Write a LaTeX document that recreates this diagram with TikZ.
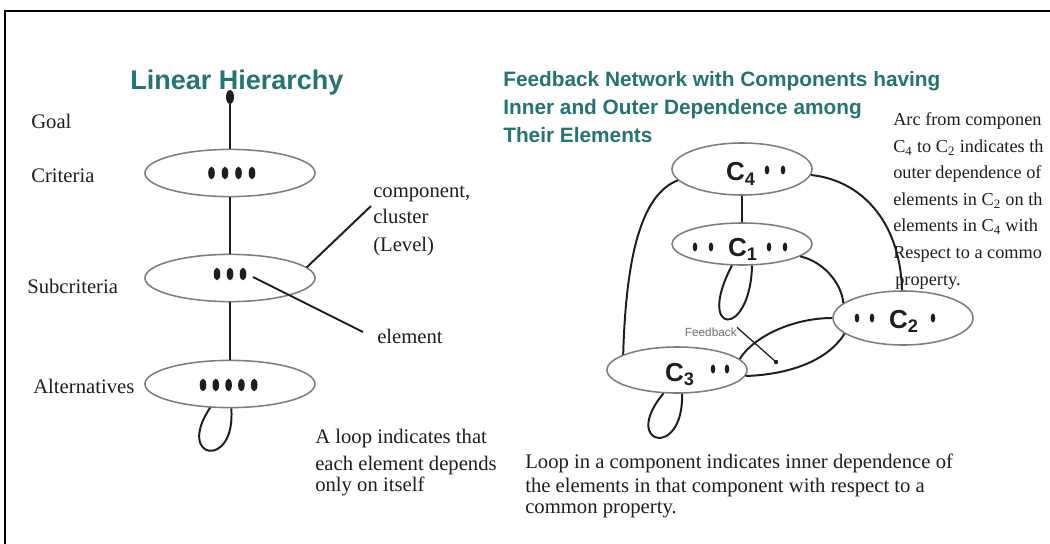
\documentclass[tikz,border=0pt]{standalone}
\usepackage{fontspec}
\setmainfont{Liberation Serif}
\setsansfont{Liberation Sans}
\usetikzlibrary{shapes.geometric, positioning}
\definecolor{titlecol}{RGB}{36,116,114}
\definecolor{ink}{RGB}{30,30,30}
\definecolor{rim}{RGB}{125,125,125}
\definecolor{muted}{RGB}{110,110,110}

\begin{document}
\begin{tikzpicture}[x=0.025cm, y=-0.025cm,
    level/.style={draw=rim, line width=1.1pt, ellipse, inner sep=0pt, minimum width=4.25cm, minimum height=1.18cm},
    comp/.style={draw=rim, line width=1.1pt, ellipse, inner sep=0pt, minimum width=3.5cm},
    link/.style={draw=ink, line width=1.4pt},
    lbl/.style={text=ink, inner sep=0pt, anchor=base west, font=\fontsize{14.7}{18}\selectfont},
    small/.style={text=ink, inner sep=0pt, anchor=base west, font=\fontsize{13}{16}\selectfont},
    clab/.style={text=ink, inner sep=0pt, anchor=base, font=\sffamily\bfseries\fontsize{18.5}{20}\selectfont},
    titre/.style={text=titlecol, inner sep=0pt, anchor=base west, font=\sffamily\bfseries\fontsize{14.8}{18}\selectfont}]

  % cadre
  \useasboundingbox (0,0) rectangle (1050,544);
  \fill[white] (0,0) rectangle (1050,544);
  \draw[black, line width=1.8pt] (5,544) -- (5,11) -- (1050,11);

  % hierarchie lineaire
  \node[titre, anchor=base, font=\sffamily\bfseries\fontsize{19.2}{22}\selectfont] (lh) at (237,90) {Linear Hierarchy};
  \node[fill=ink, ellipse, inner sep=0pt, minimum width=0.2cm, minimum height=0.35cm] (goal) at (230,97) {};
  \node[level] (crit) at (230,173) {};
  \node[level] (subc) at (230,278) {};
  \node[level] (alts) at (230,384) {};
  \draw[link] (goal) -- (crit);
  \draw[link] (crit) -- (subc);
  \draw[link] (subc) -- (alts);

  % elements
  \foreach \i in {0,...,3} \fill[ink] (211.5+13.5*\i,173) ellipse [x radius=3.3, y radius=6.3];
  \foreach \i in {0,...,2} \fill[ink] (217+13*\i,274) ellipse [x radius=3.3, y radius=6.3];
  \foreach \i in {0,...,4} \fill[ink] (203+12.8*\i,385) ellipse [x radius=3.3, y radius=6.3];

  % libelles a gauche
  \node[lbl] (goaltxt) at (31,129) {Goal};
  \node[lbl] (crittxt) at (31,183) {Criteria};
  \node[lbl] (subctxt) at (27,293) {Subcriteria};
  \node[lbl] (altstxt) at (33,393) {Alternatives};

  \node[lbl] (cptxt) at (373,198) {component,};
  \node[lbl] (cltxt) at (373,224) {cluster};
  \node[lbl] (lvtxt) at (373,251) {(Level)};
  \node[lbl] (eltxt) at (377,343) {element};
  \coordinate (cptr) at (371,206);
  \coordinate (edot) at (253,277);
  \coordinate (eptr) at (363,332);
  \draw[link] (cptr) -- (subc.8);
  \draw[link] (edot) -- (eptr);

  % boucle
  \draw[link] (alts.-87) .. controls (236,470) and (175,460) .. (alts.-130);
  \node[lbl] (n1) at (315,443) {A loop indicates that};
  \node[lbl] (n2) at (315,470) {each element depends};
  \node[lbl] (n3) at (315,491) {only on itself};

  % reseau avec retroaction
  \node[titre] (fb1) at (503,87) {Feedback Network with Components having};
  \node[titre] (fb2) at (503,115) {Inner and Outer Dependence among};
  \node[titre] (fb3) at (503,143) {Their Elements};

  \node[comp, minimum height=1.3cm] (c4) at (742,169) {};
  \node[comp, minimum height=1.05cm] (c1) at (742,244) {};
  \node[comp, minimum height=1.35cm] (c2) at (903,318) {};
  \node[comp, minimum height=1.15cm] (c3) at (677,370) {};
  \node[clab] (c4t) at (741,181) {C\textsubscript{4}};
  \node[clab] (c1t) at (743,256) {C\textsubscript{1}};
  \node[clab] (c2t) at (904,328) {C\textsubscript{2}};
  \node[clab] (c3t) at (680,381) {C\textsubscript{3}};
  \foreach \x/\y in {767/170, 783/170, 695/247, 711/247, 769/247, 785/247, 857/318, 872/318, 933/318, 713/369, 727/369}
    \fill[ink] (\x,\y) ellipse [x radius=2.3, y radius=4.5];

  % arcs
  \draw[link] (c4.south) -- (c1.north);
  \draw[link] (c4.190) .. controls (640,195) and (626,260) .. (c3.164);
  \draw[link] (c4.-5) .. controls (860,180) and (900,220) .. (c2.92);
  \draw[link] (c1.-12) .. controls (825,262) and (842,285) .. (c2.166);
  \draw[link] (c1.-65) .. controls (750,340) and (695,335) .. (c1.-115);
  \draw[link] (c2.180) .. controls (795,318) and (755,335) .. (c3.10);
  \draw[link] (c2.195) .. controls (825,365) and (780,375) .. (c3.-5);
  \draw[link] (c3.-78) .. controls (684,460) and (620,445) .. (c3.-120);

  % retroaction
  \node[text=muted, inner sep=0pt, anchor=east, font=\sffamily\fontsize{8.4}{10}\selectfont] (fbk) at (737,332) {Feedback};
  \coordinate (fbtip) at (776,362);
  \draw[ink, line width=0.9pt] (fbk.north east) -- (fbtip);
  \fill[ink] (fbtip) circle [radius=2.2];

  % texte a droite
  \node[small] (r1) at (893,126) {Arc from componen};
  \node[small] (r2) at (893,152.5) {C\textsubscript{4} to C\textsubscript{2} indicates th};
  \node[small] (r3) at (893,179) {outer dependence of};
  \node[small] (r4) at (893,205.5) {elements in C\textsubscript{2} on th};
  \node[small] (r5) at (893,232) {elements in C\textsubscript{4} with};
  \node[small] (r6) at (893,258.5) {Respect to a commo};
  \node[small] (r7) at (895,285) {property.};

  % texte en bas
  \node[lbl] (b1) at (525,468) {Loop in a component indicates inner dependence of};
  \node[lbl] (b2) at (525,492) {the elements in that component with respect to a};
  \node[lbl] (b3) at (525,513) {common property.};
\end{tikzpicture}
\end{document}
